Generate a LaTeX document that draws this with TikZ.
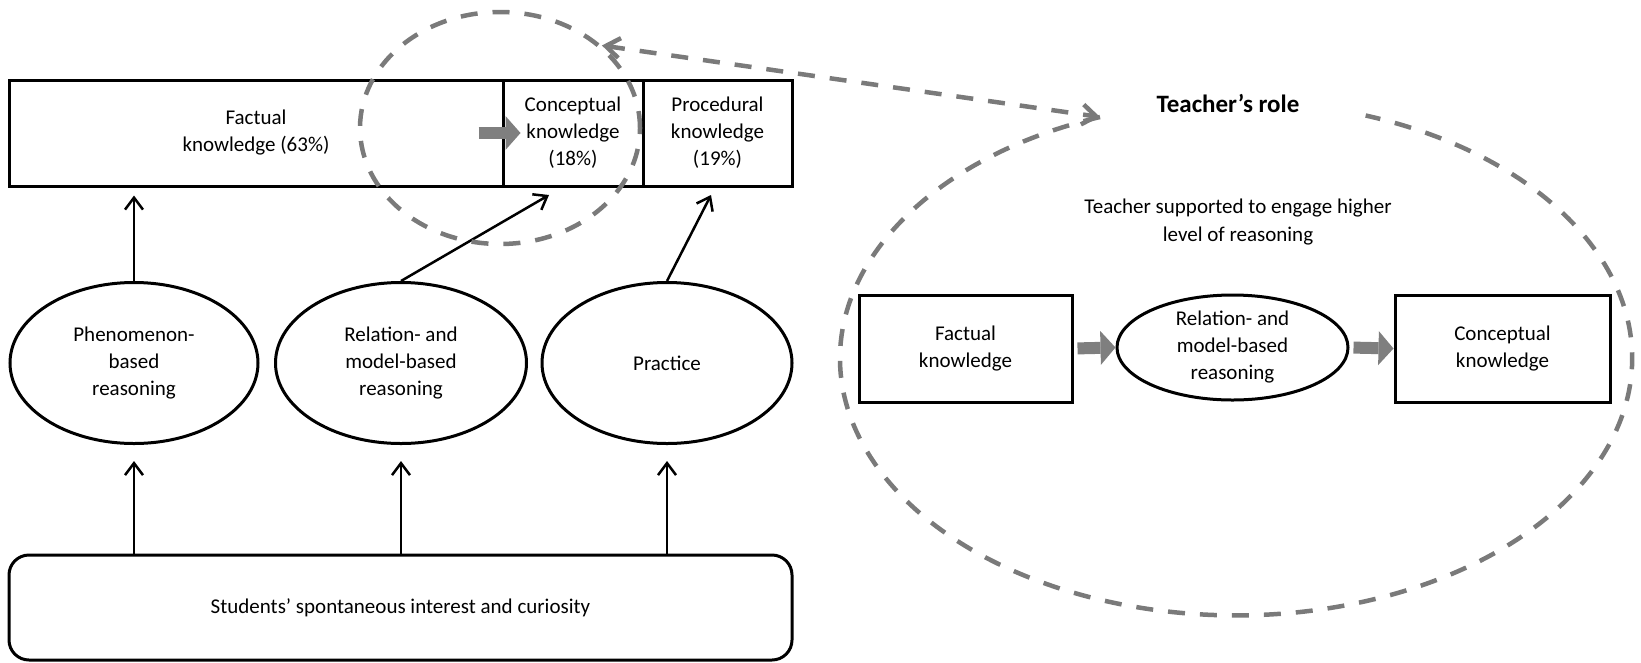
\documentclass[tikz,border=0pt]{standalone}
\usepackage{fontspec}
\setmainfont{Carlito}
\usetikzlibrary{arrows.meta,shapes.geometric,calc}
\definecolor{ringgray}{HTML}{7A7A7A}
\definecolor{blockgray}{HTML}{7F7F7F}
\begin{document}
\begin{tikzpicture}[x=1pt,y=-1pt,
  every node/.style={font=\fontsize{21}{27}\selectfont, text=black},
  box/.style={draw, line width=3pt, rectangle, inner sep=0pt, align=center},
  oval/.style={draw, line width=3pt, ellipse, inner sep=0pt, align=center},
  arr/.style={line width=2.5pt, -{Straight Barb[length=12pt,width=18pt]}},
  ring/.style={draw=ringgray, line width=4.5pt, dash pattern=on 17pt off 15pt},
  blockarr/.style={draw=blockgray, line width=12pt,
    -{Triangle[length=15pt,width=34pt,line width=0pt,fill=blockgray]}}]
\useasboundingbox (0,0) rectangle (1641,662);

% knowledge bar
\node[box, minimum width=494pt, minimum height=106pt] (fact) at (256,133) {Factual\\knowledge (63\%)};
\node[box, minimum width=140pt, minimum height=106pt] (conc) at (573,133) {Conceptual\\knowledge\\(18\%)};
\node[box, minimum width=149pt, minimum height=106pt] (proc) at (717.5,133) {Procedural\\knowledge\\(19\%)};

% kinds of reasoning
\node[oval, minimum width=248pt, minimum height=161pt] (phen) at (134,363) {Phenomenon-\\based\\reasoning};
\node[oval, minimum width=251pt, minimum height=161pt] (rel) at (401,363) {Relation- and\\model-based\\reasoning};
\node[oval, minimum width=250pt, minimum height=161pt] (prac) at (667,363) {Practice};

% starting point
\node[box, rounded corners=20pt, minimum width=783pt, minimum height=105pt] (stud) at (400.5,607.5) {Students’ spontaneous interest and curiosity};

% teacher's role
\node[box, minimum width=213pt, minimum height=107pt] (fk) at (965.5,348.5) {Factual\\knowledge};
\node[oval, minimum width=231pt, minimum height=105pt] (rel2) at (1232.5,347.5) {Relation- and\\model-based\\reasoning};
\node[box, minimum width=215pt, minimum height=107pt] (ck) at (1502.5,348.5) {Conceptual\\knowledge};
\node[font=\bfseries\fontsize{25}{30}\selectfont] (role) at (1228,103) {Teacher’s role};
\node[align=center, font=\fontsize{21}{28}\selectfont] (supp) at (1238,222) {Teacher supported to engage higher\\level of reasoning};

% arrows from reasoning to knowledge
\coordinate (tipR) at (549,195);
\coordinate (tipP) at (711,195);
\draw[arr, shorten >=8pt] (phen.north) -- (phen.north |- fact.south);
\draw[arr] (rel.north) -- (tipR);
\draw[arr] (prac.north) -- (tipP);
\foreach \n in {phen,rel,prac}
  \draw[arr, shorten >=16pt] (stud.north -| \n.south) -- (\n.south);

% block arrows
\draw[blockarr] ([xshift=-23pt]conc.west) -- ([xshift=19pt]conc.west);
\draw[blockarr, shorten <=4pt] (fk.east) -- (rel2.west);
\draw[blockarr, shorten <=4pt] (rel2.east) -- (ck.west);

% zoom ring and its enlargement
\node[ring, ellipse, minimum width=280pt, minimum height=232pt, inner sep=0pt] (zoomring) at (500,128) {};
\coordinate (bigstart) at (1100,117);
\draw[ring, {Straight Barb[length=14pt,width=20pt]}-{Straight Barb[length=14pt,width=20pt]}] (zoomring.39) -- (bigstart);
\draw[ring] (bigstart) arc[start angle=110.1, end angle=430.9, x radius=396pt, y radius=257pt];
\end{tikzpicture}
\end{document}
